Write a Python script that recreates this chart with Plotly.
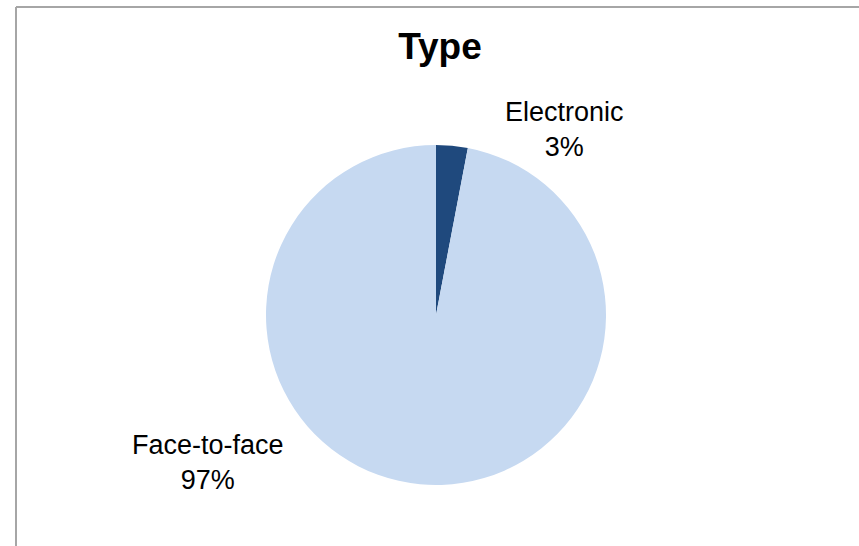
import plotly.graph_objects as go

# Share of contacts by type
categories = ["Electronic", "Face-to-face"]
shares = [3, 97]
colors = ["#1F497D", "#C6D9F1"]

W, H = 859, 546
FONT = "Liberation Sans Narrow, Arial Narrow, Liberation Sans, Arial, sans-serif"

# pie placement in pixels (center and radius) converted to paper domain
cx, cy, r = 436, 315, 170

fig = go.Figure(
    go.Pie(
        labels=categories,
        values=shares,
        sort=False,
        direction="clockwise",
        rotation=0,
        marker=dict(colors=colors, line=dict(width=0)),
        textinfo="none",
        hoverinfo="label+percent",
        showlegend=False,
        domain=dict(x=[(cx - r) / W, (cx + r) / W], y=[1 - (cy + r) / H, 1 - (cy - r) / H]),
    )
)

# outside labels built from the data
label_pos = {"Electronic": (564, 129), "Face-to-face": (208, 462)}
for cat, val in zip(categories, shares):
    px, py = label_pos[cat]
    fig.add_annotation(
        x=px / W, y=1 - py / H, xref="paper", yref="paper",
        text=f"{cat}<br>{val}%", showarrow=False,
        xanchor="center", yanchor="middle", align="center",
        font=dict(family=FONT, size=27, color="#000000"),
    )

# chart area border (left and top edges visible)
border = dict(color="#A6A6A6", width=2)
fig.add_shape(type="line", xref="paper", yref="paper", x0=16 / W, x1=16 / W, y0=0, y1=1 - 7 / H, line=border)
fig.add_shape(type="line", xref="paper", yref="paper", x0=16 / W, x1=1, y0=1 - 7 / H, y1=1 - 7 / H, line=border)

fig.update_layout(
    width=W, height=H,
    margin=dict(l=0, r=0, t=0, b=0),
    paper_bgcolor="white", plot_bgcolor="white",
    title=dict(
        text="<b>Type</b>", x=440 / W, y=1 - 46 / H, xanchor="center", yanchor="middle",
        font=dict(family=FONT, size=37, color="#000000"),
    ),
)

fig.write_html("out.html")
